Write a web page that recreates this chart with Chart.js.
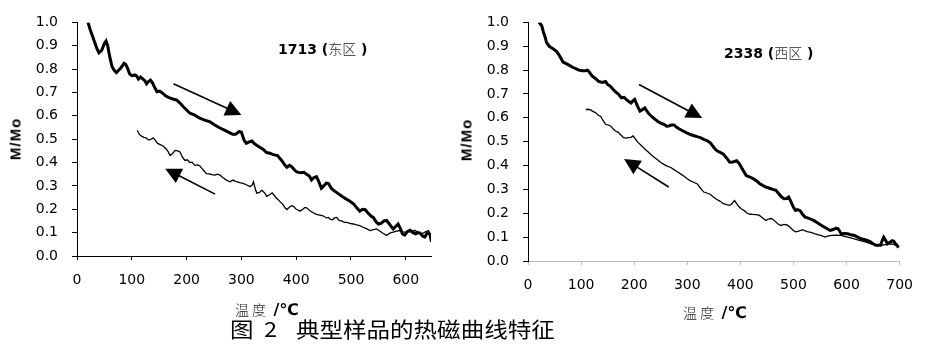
<!DOCTYPE html>
<html><head><meta charset="utf-8">
<script src="https://cdn.jsdelivr.net/npm/chart.js@4/dist/chart.umd.min.js"></script>
<style>
html,body{margin:0;padding:0;background:#fff}
body{width:925px;height:347px;position:relative;overflow:hidden;font-family:"Liberation Sans",Arial,sans-serif;color:#000}
.wrap{position:absolute;top:0;height:300px}
#w1{left:0;width:445px}
#w2{left:460px;width:465px}
.t{position:absolute;white-space:nowrap;line-height:1}
.ytitle{font-family:"Liberation Sans",Arial,sans-serif;font-weight:bold;font-size:15px;letter-spacing:1px;transform:translate(-50%,-50%) rotate(-90deg)}
.ttl{font-family:"DejaVu Sans",sans-serif;font-weight:bold;font-size:14px;transform:translateY(-50%)}
.ttl .cn{font-family:"Noto Sans CJK SC",sans-serif;font-weight:300;font-size:14px;color:#222}
.xt{transform:translateY(-50%)}
.xt .cn{font-family:"Noto Sans CJK SC",sans-serif;font-weight:300;font-size:14px;letter-spacing:3px;color:#222}
.xt .u{font-family:"DejaVu Sans",sans-serif;font-weight:bold;font-size:16px}
.cap{font-family:"Noto Sans CJK SC",sans-serif;font-size:21px;transform-origin:0 50%;transform:translateY(-50%) scaleX(1.12)}
</style></head>
<body>
<div class="wrap" id="w1"><canvas id="c1" width="445" height="300"></canvas></div>
<div class="wrap" id="w2"><canvas id="c2" width="465" height="300"></canvas></div>

<div class="t ytitle" style="left:15px;top:139px">M/Mo</div>
<div class="t ytitle" style="left:466px;top:140px">M/Mo</div>
<div class="t ttl" style="left:278px;top:48px">1713 (<span class="cn">东区</span> )</div>
<div class="t ttl" style="left:724px;top:52px">2338 (<span class="cn">西区</span> )</div>
<div class="t xt" style="left:235px;top:310px"><span class="cn">温度</span> <span class="u">/℃</span></div>
<div class="t xt" style="left:683px;top:313px"><span class="cn">温度</span> <span class="u">/℃</span></div>
<div class="t cap" style="left:230px;top:328px">图</div>
<div class="t cap" style="left:264px;top:328px">2</div>
<div class="t cap" style="left:296px;top:328px">典型样品的热磁曲线特征</div>

<script>
// ---- data (temperature in °C, M/Mo) ----
const leftHeatT = [
20,24,30,36,40,45,50,53,56,60,
64,68,72,76,80,86,89,92,96,100,
106,109,112,116,120,124,127,131,134,138,
142,146,151,156,162,168,175,182,188,194,
200,206,215,224,233,243,252,261,270,279,
285,290,296,300,305,309,314,319,324,332,
340,346,352,358,366,373,379,383,388,392,
397,401,408,414,419,424,428,432,437,441,
446,450,455,459,464,470,476,484,492,498,
505,511,516,521,526,531,537,541,546,550,
555,560,565,569,574,577,581,586,590,594,
598,603,608,613,618,622,626,631,635,638,
641,644,647];
const leftHeatM = [
1.00,0.97,0.93,0.89,0.87,0.88,0.91,0.92,0.90,0.85,
0.81,0.795,0.785,0.795,0.805,0.825,0.82,0.805,0.78,0.772,
0.775,0.77,0.757,0.766,0.758,0.75,0.737,0.748,0.753,0.74,
0.72,0.703,0.706,0.697,0.685,0.678,0.672,0.667,0.655,0.639,
0.625,0.611,0.603,0.59,0.582,0.574,0.56,0.548,0.538,0.527,
0.52,0.522,0.533,0.53,0.495,0.482,0.488,0.492,0.48,0.468,
0.456,0.443,0.44,0.434,0.43,0.41,0.39,0.38,0.388,0.382,
0.368,0.36,0.356,0.358,0.35,0.342,0.325,0.335,0.34,0.32,
0.29,0.3,0.312,0.31,0.29,0.278,0.268,0.255,0.243,0.234,
0.222,0.205,0.192,0.2,0.198,0.184,0.17,0.164,0.145,0.137,
0.14,0.15,0.152,0.14,0.125,0.116,0.125,0.137,0.118,0.095,
0.09,0.105,0.11,0.1,0.095,0.1,0.098,0.085,0.082,0.095,
0.1,0.092,0.06];

const leftCoolT = [
110,114,118,122,126,130,134,139,143,147,
151,157,162,166,170,174,179,184,188,192,
197,201,206,210,215,220,224,229,236,241,
246,252,256,261,266,272,279,285,291,297,
303,309,316,320,322,325,328,333,337,340,
344,346,352,356,359,364,370,376,380,383,
388,392,395,400,404,407,412,416,419,424,
431,437,443,449,455,459,462,466,470,474,
478,483,488,492,498,504,510,516,522,528,
535,541,547,553,559,565,569,573,577,583,
589,595,602,609,617,623,629,635,641,645];
const leftCoolM = [
0.538,0.52,0.513,0.508,0.506,0.497,0.498,0.506,0.495,0.482,
0.478,0.471,0.46,0.448,0.43,0.438,0.452,0.45,0.445,0.425,
0.409,0.412,0.4,0.402,0.388,0.39,0.386,0.372,0.353,0.352,
0.348,0.346,0.35,0.346,0.336,0.326,0.318,0.325,0.318,0.314,
0.311,0.305,0.297,0.305,0.318,0.29,0.269,0.272,0.281,0.276,
0.265,0.255,0.263,0.27,0.262,0.248,0.234,0.22,0.205,0.199,
0.21,0.215,0.213,0.2,0.196,0.192,0.2,0.208,0.206,0.196,
0.185,0.178,0.175,0.172,0.163,0.165,0.158,0.155,0.163,0.165,
0.152,0.15,0.144,0.144,0.14,0.137,0.133,0.13,0.123,0.117,
0.109,0.113,0.116,0.106,0.096,0.088,0.095,0.1,0.102,0.106,
0.109,0.103,0.102,0.106,0.109,0.1,0.095,0.102,0.109,0.095];

const rightHeatT = [
20,23,26,29,32,35,40,45,50,54,
58,62,66,72,78,84,90,96,102,108,
112,116,121,127,133,140,146,150,155,160,
164,170,176,181,185,190,194,198,201,206,
211,216,220,225,229,236,244,250,257,261,
265,270,275,280,285,292,299,306,313,320,
325,331,337,343,348,352,356,362,368,374,
380,386,393,398,404,411,418,424,430,436,
442,448,455,461,467,472,477,482,487,491,
495,500,504,508,513,517,522,528,533,538,
545,553,561,569,575,580,584,590,596,602,
608,615,621,627,633,639,645,650,655,660,
664,667,670,674,677,681,686,689,692,695,
698];
const rightHeatM = [
1.0,0.995,0.985,0.96,0.94,0.915,0.9,0.893,0.885,0.878,
0.865,0.85,0.834,0.827,0.82,0.812,0.806,0.8,0.797,0.797,
0.8,0.79,0.775,0.765,0.753,0.748,0.752,0.74,0.733,0.72,
0.711,0.7,0.684,0.686,0.677,0.668,0.662,0.672,0.677,0.65,
0.628,0.635,0.642,0.625,0.614,0.6,0.586,0.578,0.572,0.565,
0.566,0.57,0.57,0.56,0.553,0.545,0.537,0.53,0.525,0.52,
0.517,0.51,0.505,0.496,0.482,0.47,0.462,0.455,0.448,0.432,
0.414,0.415,0.42,0.408,0.385,0.358,0.352,0.345,0.337,0.325,
0.317,0.31,0.305,0.3,0.296,0.283,0.27,0.261,0.262,0.268,
0.25,0.225,0.212,0.215,0.21,0.196,0.184,0.18,0.175,0.17,
0.16,0.149,0.138,0.128,0.132,0.138,0.135,0.114,0.115,0.114,
0.11,0.107,0.1,0.093,0.09,0.086,0.08,0.072,0.066,0.066,
0.066,0.085,0.1,0.085,0.072,0.078,0.085,0.083,0.072,0.066,
0.056];

const rightCoolT = [
109,113,118,122,127,132,137,141,146,150,
155,158,161,165,170,175,180,185,189,194,
198,203,207,213,220,226,232,238,244,250,
256,262,269,275,282,288,294,300,306,312,
319,325,331,337,343,349,355,362,368,374,
380,384,389,393,397,402,408,413,417,423,
430,436,442,448,452,456,460,466,471,476,
482,488,494,500,504,510,516,519,526,533,
541,547,553,559,566,572,580,590,596,602,
610,621,630,638,646,655,664,674,683,689,
695];
const rightCoolM = [
0.635,0.636,0.633,0.627,0.622,0.612,0.606,0.59,0.573,0.57,
0.567,0.56,0.552,0.545,0.539,0.528,0.517,0.515,0.517,0.518,
0.524,0.51,0.497,0.485,0.469,0.458,0.445,0.434,0.424,0.413,
0.405,0.398,0.392,0.383,0.373,0.364,0.355,0.345,0.336,0.33,
0.323,0.305,0.289,0.285,0.28,0.268,0.259,0.25,0.24,0.236,
0.233,0.24,0.253,0.24,0.228,0.218,0.21,0.2,0.197,0.195,
0.194,0.191,0.18,0.17,0.175,0.178,0.177,0.165,0.155,0.149,
0.153,0.151,0.14,0.128,0.122,0.125,0.13,0.129,0.123,0.12,
0.114,0.11,0.106,0.1,0.105,0.107,0.108,0.107,0.103,0.1,
0.096,0.089,0.083,0.078,0.072,0.069,0.066,0.069,0.072,0.07,
0.062];

// arrows: [fromT, fromM, toT, toM] in data units
const leftArrows = [[176,0.737,300,0.604],[252,0.265,161,0.374]];
const rightArrows = [[209,0.74,328,0.599],[265,0.31,181,0.428]];

const yTickStep = 0.1;
const xTickStep = 100;

function zip(t, m){ const n=Math.min(t.length,m.length); const out=[]; for(let i=0;i<n;i++) out.push({x:t[i],y:m[i]}); return out; }

const arrowPlugin = {
  id:'arrows',
  afterDatasetsDraw(chart, args, opts){
    const ctx = chart.ctx, xs = chart.scales.x, ys = chart.scales.y;
    ctx.save(); ctx.strokeStyle='#000'; ctx.fillStyle='#000'; ctx.lineWidth=1.6;
    (opts.list||[]).forEach(a=>{
      const x1=xs.getPixelForValue(a[0]), y1=ys.getPixelForValue(a[1]);
      const x2=xs.getPixelForValue(a[2]), y2=ys.getPixelForValue(a[3]);
      const ang=Math.atan2(y2-y1,x2-x1), L=16, W=8;
      const bx=x2-L*Math.cos(ang), by=y2-L*Math.sin(ang);
      ctx.beginPath(); ctx.moveTo(x1,y1); ctx.lineTo(bx+2*Math.cos(ang),by+2*Math.sin(ang)); ctx.stroke();
      ctx.beginPath(); ctx.moveTo(x2,y2);
      ctx.lineTo(bx+W*Math.sin(ang), by-W*Math.cos(ang));
      ctx.lineTo(bx-W*Math.sin(ang), by+W*Math.cos(ang));
      ctx.closePath(); ctx.fill();
    });
    ctx.restore();
  }
};

function makeChart(id, heat, cool, xmax, arrows, st){
  const tickFont = {family:'DejaVu Sans', size:14};
  const cfg = {
    type:'line',
    data:{datasets:[
      {data:heat, borderColor:'#000', borderWidth:3, pointRadius:0, tension:0, fill:false},
      {data:cool, borderColor:'#000', borderWidth:1.3, pointRadius:0, tension:0, fill:false}
    ]},
    options:{
      responsive:false, animation:false, devicePixelRatio:1,
      layout:{padding:{top:st.pad[0], right:st.pad[1], bottom:st.pad[2], left:st.pad[3]}},
      plugins:{legend:{display:false}, tooltip:{enabled:false}, arrows:{list:arrows}},
      scales:{
        x:{type:'linear', min:0, max:xmax,
          ticks:{stepSize:xTickStep, includeBounds:false, color:'#000', font:tickFont, padding:st.xpad, maxRotation:0, autoSkip:false},
          grid:{display:true, drawOnChartArea:false, drawTicks:true, tickLength:4, color:st.xTickColor},
          border:{display:true, color:st.xBorderColor, width:1, dash:st.xDash},
          afterBuildTicks:s=>{ s.ticks = s.ticks.filter(t=>Math.abs(t.value % xTickStep) < 1e-6); },
          afterFit:s=>{ s.height = st.xh; }
        },
        y:{type:'linear', min:0, max:1,
          ticks:{stepSize:yTickStep, color:'#000', font:tickFont, padding:14, callback:v=>Number(v).toFixed(1)},
          grid:{display:true, drawOnChartArea:false, drawTicks:true, tickLength:5, color:'#000'},
          border:{display:true, color:'#000', width:1, dash:st.yDash},
          afterFit:s=>{ s.width = st.yw; }
        }
      }
    },
    plugins:[arrowPlugin]
  };
  const chart = new Chart(document.getElementById(id), cfg);
  // align the plot area with the target frame
  for(let i=0;i<3;i++){
    const a = chart.chartArea, p = chart.options.layout.padding;
    const np = {top:p.top + (st.area.top - a.top), bottom:p.bottom + (a.bottom - st.area.bottom),
                left:p.left + (st.area.left - a.left), right:p.right + (a.right - st.area.right)};
    chart.options.layout.padding = np;
    chart.update('none');
  }
  return chart;
}

makeChart('c1', zip(leftHeatT,leftHeatM), zip(leftCoolT,leftCoolM), 646, leftArrows, {
  pad:[10,10,0,0], xpad:12, xh:44, yw:77,
  xTickColor:'#000', xBorderColor:'#000', xDash:[], yDash:[],
  area:{left:77, top:17, right:431, bottom:256}
});
makeChart('c2', zip(rightHeatT,rightHeatM), zip(rightCoolT,rightCoolM), 700, rightArrows, {
  pad:[10,15,0,0], xpad:12, xh:39, yw:68,
  xTickColor:'#bbb', xBorderColor:'#bbb', xDash:[2,12], yDash:[7,2,1,2],
  area:{left:68, top:21, right:446, bottom:261}
});
</script>
</body></html>
